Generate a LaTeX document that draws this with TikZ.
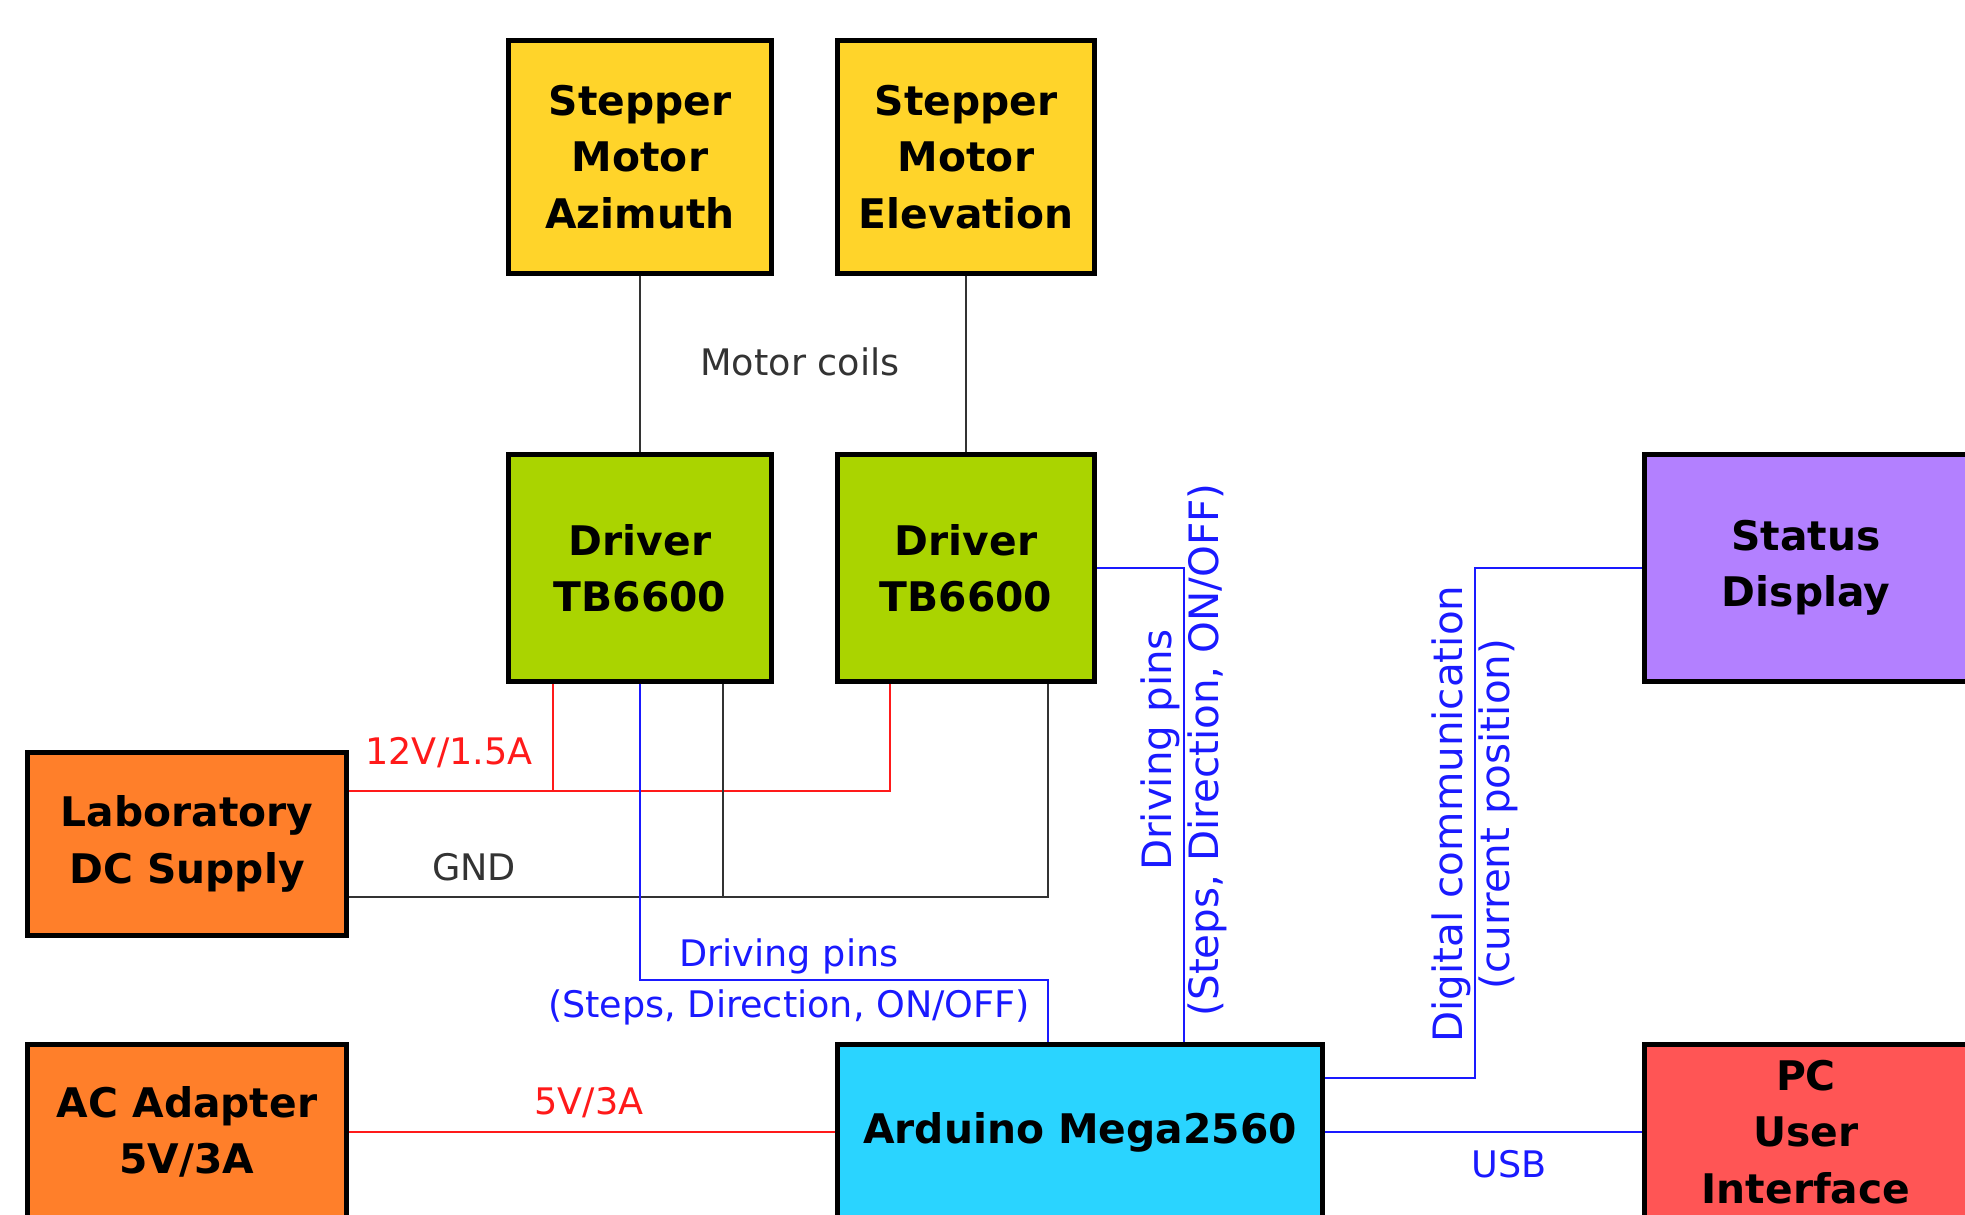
\documentclass[tikz,border=0pt]{standalone}
\usepackage{fontspec}
\setmainfont{DejaVu Sans}
\definecolor{cYellow}{HTML}{FFD42A}
\definecolor{cLime}{HTML}{AAD400}
\definecolor{cOrange}{HTML}{FF7F2A}
\definecolor{cCyan}{HTML}{2AD4FF}
\definecolor{cViolet}{HTML}{B380FF}
\definecolor{cSalmon}{HTML}{FF5555}
\definecolor{cRed}{HTML}{FF1A1A}
\definecolor{cBlue}{HTML}{1A1AFF}
\definecolor{cWire}{HTML}{333333}
\tikzset{
  block/.style={draw=black, line width=1.4pt, align=center, inner sep=0pt,
    font=\bfseries\fontsize{11.6}{16}\selectfont},
  wire/.style={draw=cWire, line width=0.8pt},
  pwr/.style={draw=cRed, line width=0.8pt},
  sig/.style={draw=cBlue, line width=0.8pt},
  lbl/.style={inner sep=0pt, align=center, font=\fontsize{10.4}{14.5}\selectfont},
  vlbl/.style={inner sep=0pt, align=center, rotate=90, font=\fontsize{11.5}{13.2}\selectfont}
}
\begin{document}
\begin{tikzpicture}[x=0.01cm, y=-0.01cm]
		\useasboundingbox (0,0) rectangle (1965,1215);
		\clip (0,0) rectangle (1965,1215);
		% blocks
		\node (az) [block, fill=cYellow, minimum width=2.62cm, minimum height=2.32cm] at (640,157) {Stepper\\Motor\\Azimuth};
		\node (el) [block, fill=cYellow, minimum width=2.56cm, minimum height=2.32cm] at (966,157) {Stepper\\Motor\\Elevation};
		\node (drv1) [block, fill=cLime, minimum width=2.62cm, minimum height=2.26cm] at (640,568) {Driver\\TB6600};
		\node (drv2) [block, fill=cLime, minimum width=2.56cm, minimum height=2.26cm] at (966,568) {Driver\\TB6600};
		\node (lab) [block, fill=cOrange, minimum width=3.18cm, minimum height=1.82cm] at (187,844) {Laboratory\\DC Supply};
		\node (ac) [block, fill=cOrange, minimum width=3.18cm, minimum height=1.75cm] at (187,1132) {AC Adapter\\5V/3A};
		\node (ard) [block, fill=cCyan, minimum width=4.84cm, minimum height=1.75cm] at (1080,1132) {Arduino Mega2560};
		\node (status) [block, fill=cViolet, minimum width=3.22cm, minimum height=2.26cm] at (1806,568) {Status\\Display};
		\node (pc) [block, fill=cSalmon, minimum width=3.22cm, minimum height=1.75cm] at (1806,1132) {PC\\User\\Interface};
		% bends of the lines
		\coordinate (r1) at (553,791);
		\coordinate (r2) at (890,791);
		\coordinate (g1) at (723,897);
		\coordinate (g2) at (1048,897);
		\coordinate (p1) at (640,980);
		\coordinate (p2) at (1048,980);
		\coordinate (q1) at (1184,568);
		\coordinate (d1) at (1475,1078);
		\coordinate (d2) at (1475,568);
		% motor coils
		\draw [wire] (az) -- (drv1) (el) -- (drv2);
		% 12V and GND
		\draw [pwr] (lab.east |- r1) -- (r2) -- (drv2.south -| r2) (r1) -- (drv1.south -| r1);
		\draw [wire] (lab.east |- g1) -- (g2) -- (drv2.south -| g2) (g1) -- (drv1.south -| g1);
		\draw [pwr] (ac) -- (ard);
		% signals
		\draw [sig] (drv1.south) -- (p1) -- (p2) -- (ard.north -| p2);
		\draw [sig] (drv2.east) -- (q1) -- (ard.north -| q1);
		\draw [sig] (ard.east |- d1) -- (d1) -- (d2) -- (status.west);
		\draw [sig] (ard.east) -- (pc.west);
		% labels
		\node (coils) [lbl, text=cWire] at (800,362) {Motor coils};
		\node (v12) [lbl, text=cRed] at (449,753) {12V/1.5A};
		\node (gnd) [lbl, text=cWire] at (474,867) {GND};
		\node (v5) [lbl, text=cRed] at (589,1103) {5V/3A};
		\node (usb) [lbl, text=cBlue] at (1509,1164) {USB};
		\node (pins1) [lbl, text=cBlue] at (789,982) {Driving pins\\(Steps, Direction, ON/OFF)};
		\node (pins2) [vlbl, text=cBlue] at (1184,750) {Driving pins\\(Steps, Direction, ON/OFF)};
		\node (comm) [vlbl, text=cBlue] at (1475,814) {Digital communication\\(current position)};
\end{tikzpicture}
\end{document}
